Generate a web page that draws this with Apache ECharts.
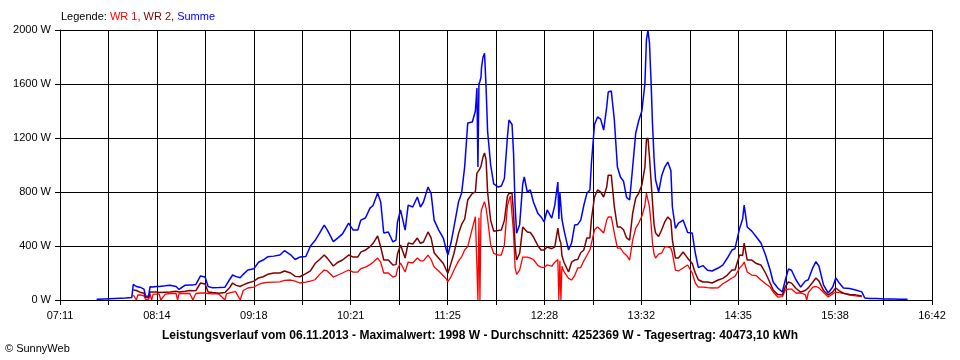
<!DOCTYPE html>
<html><head><meta charset="utf-8">
<script src="https://cdn.jsdelivr.net/npm/echarts@6/dist/echarts.min.js"></script>
<style>html,body{margin:0;padding:0;background:#fff}#c{width:960px;height:360px}</style>
</head><body><div id="c"></div>
<script>
// ---- data ----
const startTime = '07:11';
const endTime = '16:42';
const tickLabels = ['07:11','08:14','09:18','10:21','11:25','12:28','13:32','14:35','15:38','16:42'];
const yTicks = [0, 400, 800, 1200, 1600, 2000];
const seriesNames = ['WR 1', 'WR 2', 'Summe'];

const times = [
'07:35','07:40','07:47','07:54','07:58','07:59','08:00','08:01','08:02','08:04',
'08:06','08:07','08:09','08:10','08:11','08:12','08:14','08:16','08:17','08:20',
'08:23','08:27','08:28','08:29','08:33','08:36','08:37','08:38','08:40','08:43',
'08:46','08:48','08:51','08:55','08:59','09:00','09:02','09:04','09:06','09:09',
'09:11','09:14','09:18','09:21','09:24','09:27','09:31','09:35','09:38','09:42',
'09:45','09:48','09:52','09:55','09:58','10:01','10:04','10:06','10:10','10:13',
'10:16','10:20','10:23','10:26','10:28','10:31','10:34','10:36','10:39','10:41',
'10:43','10:46','10:49','10:51','10:52','10:54','10:57','10:59','11:02','11:05',
'11:07','11:09','11:12','11:14','11:16','11:19','11:22','11:24','11:25','11:27',
'11:29','11:32','11:34','11:36','11:38','11:41','11:43','11:44','11:44:40','11:45:20',
'11:46','11:46:40','11:47','11:48','11:49','11:50','11:51','11:53','11:55','11:58',
'12:00','12:02','12:04','12:05','12:06','12:07','12:08','12:09','12:10','12:12',
'12:14','12:15','12:17','12:19','12:21','12:24','12:26','12:28','12:30','12:33',
'12:35','12:37','12:37:40','12:38:20','12:39','12:39:40','12:41','12:44','12:46','12:48',
'12:50','12:52','12:54','12:56','12:58','12:59','13:01','13:03','13:05','13:07',
'13:09','13:10','13:12','13:14','13:16','13:18','13:20','13:22','13:24','13:26',
'13:28','13:30','13:32','13:34','13:35','13:36','13:37','13:38','13:39','13:40',
'13:41','13:43','13:45','13:47','13:49','13:51','13:52','13:54','13:56','13:59',
'14:02','14:05','14:07','14:09','14:12','14:15','14:18','14:22','14:25','14:28',
'14:31','14:33','14:34','14:36','14:38','14:39','14:41','14:44','14:47','14:50',
'14:53','14:56','14:58','15:01','15:04','15:06','15:08','15:10','15:13','15:16',
'15:19','15:20','15:21','15:24','15:26','15:28','15:31','15:34','15:37','15:39',
'15:41','15:44','15:48','15:52','15:56','15:58','16:01','16:06','16:11','16:16',
'16:21','16:24','16:26'
];

const summe = [
5,8,12,15,18,116,110,100,100,92,
80,30,28,99,96,96,100,100,100,105,
110,100,95,78,110,112,112,112,115,178,
170,100,90,92,95,98,150,185,175,165,
190,222,232,280,296,320,325,333,365,335,
300,318,322,400,440,495,555,520,432,460,
490,570,518,518,592,607,681,700,792,726,
496,504,430,444,578,667,518,703,689,763,
689,726,837,790,592,518,459,370,333,422,
541,728,792,988,1311,1319,1400,1570,985,1600,
1620,1650,1720,1800,1827,1580,1250,1000,860,837,
845,900,1210,1333,1320,1300,1086,700,494,560,
860,911,800,815,726,640,615,578,667,607,
703,874,600,792,780,600,520,370,422,555,
560,592,700,790,815,1015,1300,1356,1340,1259,
1430,1541,1548,1333,985,911,880,760,741,985,
1237,1330,1400,1600,1926,1998,1904,1630,1300,1050,
889,800,920,985,1022,960,689,530,570,592,
500,496,348,240,255,220,215,237,259,311,
370,380,370,530,600,703,541,510,467,422,
333,222,133,89,59,150,230,220,148,96,
140,148,150,240,284,250,110,52,96,163,
130,89,85,74,60,15,12,12,8,8,
6,6,5
];

const wr2 = [
null,null,null,null,null,74,70,70,65,55,
50,20,18,59,59,59,60,55,55,58,
60,65,70,60,65,70,70,68,70,126,
118,60,55,50,55,55,90,126,110,100,
112,126,140,163,172,190,200,200,215,200,
175,172,195,215,270,300,333,310,252,280,
296,333,318,318,355,370,395,420,474,393,
296,296,259,262,340,407,311,422,415,459,
420,430,504,460,350,310,270,220,198,270,
346,494,560,600,741,790,800,940,950,960,
975,990,1000,1060,1089,1040,800,590,510,515,
518,590,770,790,792,790,640,400,296,346,
540,530,504,500,467,400,370,370,393,380,
393,533,480,440,420,330,280,207,280,296,
300,350,370,459,460,600,763,815,800,763,
837,925,925,689,541,541,520,460,444,644,
755,792,850,985,1185,1200,1059,889,720,560,
496,470,520,578,615,590,444,311,311,355,
310,270,200,150,133,133,126,148,160,185,
222,222,225,333,330,422,296,296,270,259,
200,126,74,40,37,100,133,125,85,59,
70,80,90,133,163,140,70,37,60,89,
70,50,40,38,30,null,null,null,null,null,
null,null,null
];

const wr1 = [
null,null,null,null,null,37,37,0,37,37,
30,5,5,44,0,44,44,44,0,44,
48,48,0,48,48,48,48,0,48,52,
52,48,45,45,0,45,52,59,62,0,
70,89,96,115,126,130,133,135,145,148,
140,126,133,140,150,190,222,215,170,185,
200,222,207,207,232,244,262,280,311,280,
200,200,170,178,230,274,207,281,274,311,
290,290,333,300,244,215,180,155,136,170,
222,290,320,370,395,531,617,610,0,610,
0,640,667,700,728,680,600,410,346,333,
333,410,700,741,770,765,494,240,190,222,
318,318,318,310,300,255,244,240,260,250,
280,300,0,290,0,250,210,160,148,180,
237,240,290,330,370,420,520,541,520,496,
592,615,615,496,385,385,350,330,296,444,
533,570,620,700,792,792,689,570,420,340,
311,340,348,393,393,385,348,222,215,237,
259,200,126,96,96,92,89,90,120,140,
163,175,185,237,260,281,207,185,180,148,
120,96,59,22,25,75,81,81,52,52,
40,0,55,96,100,90,55,22,45,59,
55,50,37,30,25,null,null,null,null,null,
null,null,null
];

// ---- helpers ----
function toMin(s) {
  const p = s.split(':').map(Number);
  return p[0] * 60 + p[1] + (p[2] || 0) / 60;
}
const t0 = toMin(startTime);
const span = toMin(endTime) - t0;
const step = span / 18;
function pairs(vals) {
  return times.map((t, i) => [toMin(t) - t0, vals[i]]);
}

const FONT = 'Liberation Sans';
const chart = echarts.init(document.getElementById('c'), null, { renderer: 'canvas' });
chart.setOption({
  animation: false,
  backgroundColor: '#ffffff',
  textStyle: { fontFamily: FONT },
  grid: { left: 60, right: 28, top: 30, bottom: 60, containLabel: false },
  title: {
    left: 56, top: 6,
    text: '{k|Legende: }{a|' + seriesNames[0] + ', }{b|' + seriesNames[1] + ', }{c|' + seriesNames[2] + '}',
    textStyle: {
      fontSize: 11, fontWeight: 'normal', fontFamily: FONT,
      rich: {
        k: { color: '#000000', fontSize: 11, fontFamily: FONT },
        a: { color: '#ff0000', fontSize: 11, fontFamily: FONT },
        b: { color: '#800000', fontSize: 11, fontFamily: FONT },
        c: { color: '#0000ff', fontSize: 11, fontFamily: FONT }
      }
    }
  },
  graphic: [
    { type: 'text', left: 'center', top: 330,
      style: { text: 'Leistungsverlauf vom 06.11.2013 - Maximalwert: 1998 W - Durchschnitt: 4252369 W - Tagesertrag: 40473,10 kWh',
        font: 'bold 12px "' + FONT + '"', fill: '#000000' } },
    { type: 'text', left: 5, top: 343,
      style: { text: '\u00A9 SunnyWeb', font: '11px "' + FONT + '"', fill: '#000000' } }
  ],
  xAxis: {
    type: 'value', min: 0, max: span, interval: step,
    axisLine: { show: true, lineStyle: { color: '#000000', width: 1 } },
    axisTick: { show: true, length: 5, lineStyle: { color: '#000000', width: 1 } },
    splitLine: { show: true, lineStyle: { color: '#000000', width: 1 } },
    axisLabel: {
      color: '#000000', fontSize: 11, fontFamily: FONT, margin: 10,
      showMinLabel: true, showMaxLabel: true,
      formatter: function (v) {
        const k = Math.round(v / step);
        return (k % 2 === 0) ? (tickLabels[k / 2] || '') : '';
      }
    }
  },
  yAxis: {
    type: 'value', min: yTicks[0], max: yTicks[yTicks.length - 1], interval: yTicks[1] - yTicks[0],
    axisLine: { show: true, lineStyle: { color: '#000000', width: 1 } },
    axisTick: { show: true, length: 5, lineStyle: { color: '#000000', width: 1 } },
    splitLine: { show: true, lineStyle: { color: '#000000', width: 1 } },
    axisLabel: { color: '#000000', fontSize: 11, fontFamily: FONT, margin: 9,
      formatter: function (v) { return String(Math.round(v)) + ' W'; } }
  },
  series: [
    { name: seriesNames[0], type: 'line', data: pairs(wr1), showSymbol: false, symbol: 'none',
      lineStyle: { color: '#ff0000', width: 1.3 }, itemStyle: { color: '#ff0000' }, z: 3 },
    { name: seriesNames[1], type: 'line', data: pairs(wr2), showSymbol: false, symbol: 'none',
      lineStyle: { color: '#800000', width: 1.5 }, itemStyle: { color: '#800000' }, z: 4 },
    { name: seriesNames[2], type: 'line', data: pairs(summe), showSymbol: false, symbol: 'none',
      lineStyle: { color: '#0000ff', width: 1.5 }, itemStyle: { color: '#0000ff' }, z: 5 }
  ]
});
</script>
</body></html>
